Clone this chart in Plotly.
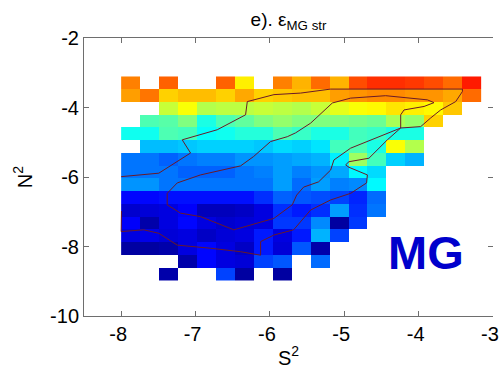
import plotly.graph_objects as go

N = None
# bin centres (S^2 along x, N^2 along y; rows listed top to bottom)
s2_centers = [-7.873, -7.618, -7.364, -7.109, -6.855, -6.600, -6.346, -6.091, -5.837, -5.582,
              -5.327, -5.073, -4.818, -4.564, -4.309, -4.055, -3.800, -3.546, -3.291]
n2_centers = [-3.291, -3.658, -4.026, -4.393, -4.761, -5.128, -5.496, -5.863,
              -6.231, -6.598, -6.966, -7.333, -7.701, -8.068, -8.436, -8.803]

eps_mg_str = [
    [0.75, N, 0.78, N, N, 0.78, 0.64, N, 0.75, 0.70, 0.77, 0.70, 0.80, 0.83, 0.83, 0.82, 0.80, 0.77, 0.85],
    [0.72, 0.76, 0.67, 0.69, 0.69, 0.67, 0.71, 0.67, 0.68, 0.69, 0.69, 0.72, 0.73, 0.74, 0.74, 0.73, 0.73, 0.71, 0.77],
    [N, N, 0.57, 0.62, 0.55, 0.56, 0.56, 0.57, 0.56, 0.55, 0.57, 0.60, 0.62, 0.63, 0.65, 0.64, 0.63, 0.68, N],
    [N, 0.45, 0.46, 0.50, 0.40, 0.45, 0.47, 0.50, 0.52, 0.50, 0.50, 0.50, 0.49, 0.48, 0.54, 0.52, 0.67, N, N],
    [0.39, 0.39, 0.45, 0.44, 0.38, 0.39, 0.41, 0.41, 0.45, 0.43, 0.40, 0.40, 0.44, 0.43, 0.40, 0.40, N, N, N],
    [N, 0.31, 0.31, 0.32, 0.33, 0.33, 0.33, 0.32, 0.34, 0.33, 0.35, 0.44, 0.45, 0.40, 0.62, 0.55, N, N, N],
    [0.24, 0.24, 0.22, 0.24, 0.25, 0.25, 0.27, 0.27, 0.28, 0.29, 0.30, 0.36, 0.53, 0.44, 0.33, 0.30, N, N, N],
    [0.24, 0.24, 0.24, 0.22, 0.22, 0.22, 0.24, 0.25, 0.28, 0.25, 0.27, 0.29, 0.37, 0.34, N, N, N, N, N],
    [0.27, 0.27, 0.24, 0.24, 0.24, 0.24, 0.24, 0.24, 0.28, 0.23, 0.28, 0.25, 0.26, 0.37, N, N, N, N, N],
    [0.13, 0.13, 0.14, 0.14, 0.14, 0.14, 0.14, 0.17, 0.22, 0.21, 0.20, 0.19, 0.16, 0.23, N, N, N, N, N],
    [0.07, 0.08, 0.09, 0.12, 0.05, 0.05, 0.06, 0.09, 0.17, 0.15, 0.17, 0.28, 0.17, 0.24, N, N, N, N, N],
    [0.12, 0.03, 0.09, 0.13, 0.09, 0.07, 0.08, 0.09, 0.18, 0.18, 0.26, 0.02, 0.18, N, N, N, N, N, N],
    [0.09, 0.10, 0.08, 0.09, 0.06, 0.08, 0.09, 0.15, 0.09, 0.15, 0.30, 0.19, N, N, N, N, N, N, N],
    [0.02, 0.02, 0.03, 0.09, 0.13, 0.09, 0.06, 0.15, 0.08, 0.21, 0.03, N, N, N, N, N, N, N, N],
    [N, N, N, 0.03, 0.13, 0.09, 0.08, 0.19, 0.21, N, 0.23, N, N, N, N, N, N, N, N],
    [N, N, 0.03, N, N, 0.19, 0.02, N, 0.02, N, N, N, N, N, N, N, N, N, N],
]

# contour lines (S^2, N^2)
outer_s2 = [-8.000, -7.494, -7.067, -7.179, -6.708, -6.327, -6.304, -5.946, -5.587, -5.183,
            -3.411, -3.411, -3.501, -3.703, -3.837, -3.972, -4.241, -4.420, -4.668, -4.937,
            -4.981, -4.937, -4.689, -4.699, -4.914, -5.183, -5.452, -5.587, -5.681, -5.946,
            -6.125, -6.125, -6.394, -6.798, -7.246, -7.494, -7.696, -8.000, -7.996]
outer_n2 = [-5.99, -5.89, -5.31, -4.93, -4.64, -4.21, -3.83, -3.63, -3.585, -3.47,
            -3.47, -3.54, -3.83, -4.07, -4.30, -4.55, -4.59, -4.93, -5.46, -5.56,
            -5.65, -5.72, -5.94, -6.17, -6.47, -6.66, -6.95, -7.29, -7.52, -7.67,
            -7.86, -8.25, -8.15, -8.05, -7.96, -7.62, -7.52, -7.57, -6.98]
middle_s2 = [-5.654, -5.452, -5.160, -4.914, -4.443, -3.882, -3.793, -3.927, -4.196, -4.241,
             -4.241, -4.420, -4.914, -5.139, -5.183, -5.345, -5.546, -5.640, -5.699, -5.946,
             -6.485, -6.933, -7.202, -7.381, -7.381, -7.246, -6.933, -6.394, -6.219, -5.991,
             -5.766, -5.654]
middle_n2 = [-4.73, -4.45, -3.87, -3.73, -3.66, -3.78, -3.86, -3.97, -4.07, -4.21,
             -4.59, -4.74, -5.17, -5.51, -5.80, -6.14, -6.29, -6.52, -6.80, -7.19,
             -7.52, -7.14, -7.04, -6.80, -6.47, -6.17, -5.94, -5.68, -5.41, -4.98,
             -4.84, -4.73]

s2_ticks = [-8, -7, -6, -5, -4, -3]
s2_tick_labels = ["-8", "-7", "-6", "-5", "-4", "-3"]
n2_ticks = [-10, -8, -6, -4, -2]
n2_tick_labels = ["-10", "-8", "-6", "-4", "-2"]

jet = [[0.0, "#00008F"], [0.125, "#0000FF"], [0.375, "#00FFFF"],
       [0.625, "#FFFF00"], [0.875, "#FF0000"], [1.0, "#800000"]]

font = "Arial, 'Liberation Sans', Helvetica, sans-serif"
axis_col = "#6e6e6e"

fig = go.Figure()
fig.add_trace(go.Heatmap(x=s2_centers, y=n2_centers, z=eps_mg_str, colorscale=jet,
                         zmin=0, zmax=1, showscale=False, hoverongaps=False))
for xs, ys in [(outer_s2, outer_n2), (middle_s2, middle_n2)]:
    fig.add_trace(go.Scatter(x=xs, y=ys, mode="lines",
                             line=dict(color="#6a1a28", width=1), showlegend=False))
# helper trace so the right-hand tick axis exists
fig.add_trace(go.Scatter(x=[None], y=[None], yaxis="y2", showlegend=False, hoverinfo="skip"))

fig.add_annotation(x=-3.9, y=-8.17, xref="x", yref="y", text="<b>MG</b>", showarrow=False,
                   font=dict(family=font, size=47, color="#0000CC"))

fig.update_layout(
    width=501, height=374, margin=dict(l=84, r=8, t=38, b=58, autoexpand=False),
    paper_bgcolor="white", plot_bgcolor="white", showlegend=False,
    title=dict(text="e). ε<sub>MG str</sub>", x=0.5, xref="paper", xanchor="center",
               y=1 - 19 / 374, yref="container", yanchor="middle",
               font=dict(family=font, size=19, color="black")),
    font=dict(family=font, color="black"),
    xaxis=dict(range=[-8.5, -2.9995], tickvals=s2_ticks, ticktext=s2_tick_labels,
               ticks="inside", ticklen=5,
               tickcolor=axis_col, showline=True, linecolor=axis_col, linewidth=1,
               mirror="ticks", showgrid=False, zeroline=False, ticklabeloverflow="allow",
               automargin=False, ticklabelshift=-3,
               tickfont=dict(size=20), title=dict(text="S<sup>2</sup>", font=dict(size=20), standoff=6)),
    yaxis=dict(range=[-10, -2], tickvals=n2_ticks, ticktext=n2_tick_labels,
               ticks="inside", ticklen=5,
               tickcolor=axis_col, showline=True, linecolor=axis_col, linewidth=1,
               mirror=False, showgrid=False, zeroline=False, automargin=False,
               tickfont=dict(size=20), title=dict(text="N<sup>2</sup>", font=dict(size=20), standoff=12)),
    yaxis2=dict(range=[-10, -2], tickvals=n2_ticks, ticks="inside", ticklen=5,
                tickcolor=axis_col, overlaying="y", side="right", showline=False,
                showticklabels=False, showgrid=False, zeroline=False, automargin=False),
)

fig.write_html("out.html")
